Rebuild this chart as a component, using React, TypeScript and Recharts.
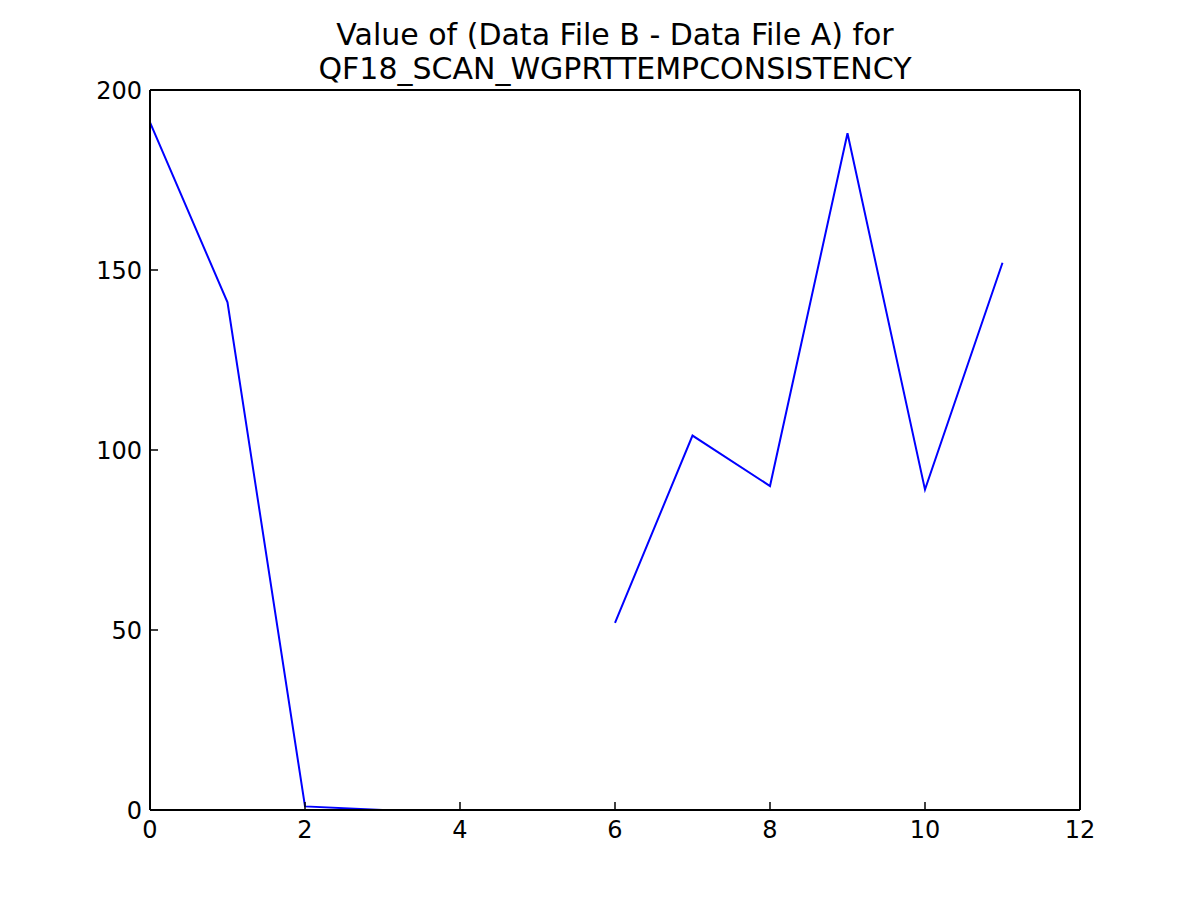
import React from "react";
import { LineChart, Line, XAxis, YAxis } from "recharts";

const xValues = [0, 1, 2, 3, 4, 5, 6, 7, 8, 9, 10, 11];
const diffValues: (number | null)[] = [191, 141, 1, 0, 0, null, 52, 104, 90, 188, 89, 152];
const xTicks = [0, 2, 4, 6, 8, 10, 12];
const yTicks = [0, 50, 100, 150, 200];

const chartData = xValues.map((x, i) => ({ x, v: diffValues[i] }));

const FONT = "'DejaVu Sans', sans-serif";

// labels only; the inward tick marks come from tickSize={-8}
const BottomLabel = (props: any) => {
  const { x, y, payload } = props;
  return (
    <text x={x} y={y + 28} textAnchor="middle" fontSize={24} fontFamily={FONT} fill="#000">
      {payload.value}
    </text>
  );
};

const LeftLabel = (props: any) => {
  const { x, y, payload } = props;
  return (
    <text x={x - 8} y={y + 8.5} textAnchor="end" fontSize={24} fontFamily={FONT} fill="#000">
      {payload.value}
    </text>
  );
};

export default function App() {
  const axisLine = { stroke: "#000", strokeWidth: 2 };
  const tickLine = { stroke: "#000", strokeWidth: 1.5 };
  return (
    <div style={{ position: "absolute", left: 0, top: 0, width: 1200, height: 900, background: "#fff" }}>
      <div
        style={{
          position: "absolute",
          left: 15,
          width: 1200,
          top: 18,
          textAlign: "center",
          fontFamily: FONT,
          fontSize: 30,
          lineHeight: "34px",
          color: "#000",
        }}
      >
        Value of (Data File B - Data File A) for
        <br />
        QF18_SCAN_WGPRTTEMPCONSISTENCY
      </div>
      <LineChart
        width={1200}
        height={900}
        data={chartData}
        margin={{ top: 89, right: 119, bottom: 50, left: 90 }}
        style={{ position: "absolute", left: 0, top: 0 }}
      >
        <XAxis
          dataKey="x"
          type="number"
          domain={[0, 12]}
          ticks={xTicks}
          height={40}
          tickSize={-8}
          tickMargin={8}
          axisLine={axisLine}
          tickLine={tickLine}
          tick={<BottomLabel />}
          interval={0}
        />
        <XAxis
          xAxisId="top"
          dataKey="x"
          type="number"
          orientation="top"
          domain={[0, 12]}
          ticks={xTicks}
          height={1}
          tickSize={-8}
          tickMargin={8}
          axisLine={axisLine}
          tickLine={tickLine}
          tick={false}
          interval={0}
        />
        <YAxis
          type="number"
          domain={[0, 200]}
          ticks={yTicks}
          width={60}
          tickSize={-8}
          tickMargin={8}
          axisLine={axisLine}
          tickLine={tickLine}
          tick={<LeftLabel />}
          interval={0}
        />
        <YAxis
          yAxisId="right"
          orientation="right"
          type="number"
          domain={[0, 200]}
          ticks={yTicks}
          width={1}
          tickSize={-8}
          tickMargin={8}
          axisLine={axisLine}
          tickLine={tickLine}
          tick={false}
          interval={0}
        />
        <Line
          type="linear"
          dataKey="v"
          stroke="#0000ff"
          strokeWidth={2}
          dot={false}
          activeDot={false}
          isAnimationActive={false}
        />
      </LineChart>
    </div>
  );
}
